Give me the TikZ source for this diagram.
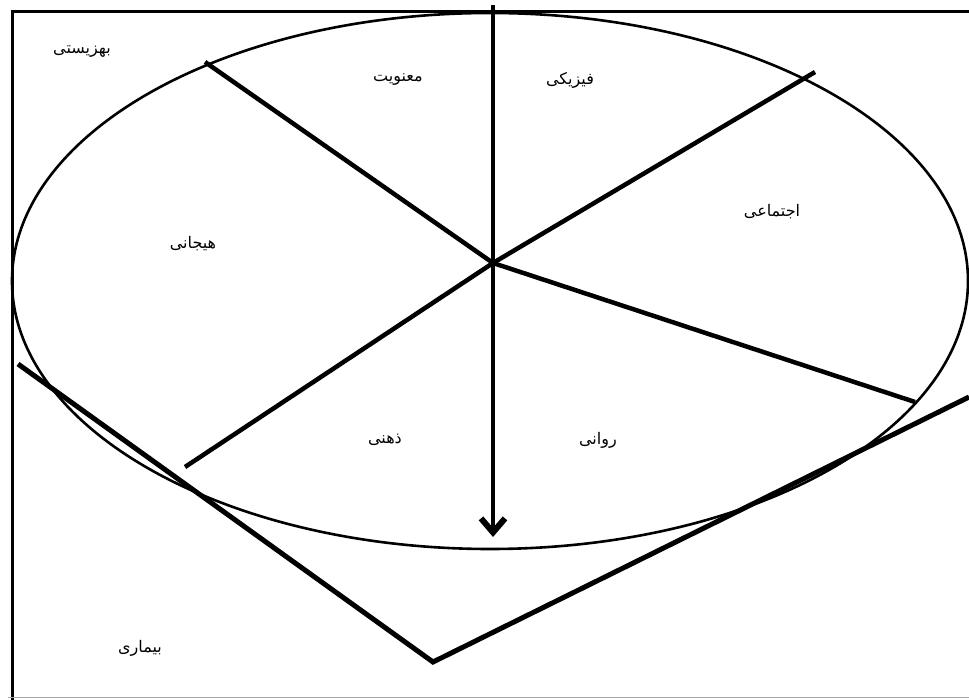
\documentclass[tikz,border=0pt]{standalone}
\usepackage{fontspec}
\usetikzlibrary{arrows.meta}
\newfontfamily\arabicfont[Script=Arabic]{DejaVu Sans}
\TeXXeTstate=1
\tikzset{
  lbl/.style={font=\arabicfont\fontsize{16}{18}\selectfont, inner sep=1pt},
  spoke/.style={line width=4.5pt},
  frame/.style={line width=3pt},
}
\begin{document}
\begin{tikzpicture}[x=1pt,y=-1pt]
\useasboundingbox (0,0) rectangle (969,700);
% frame
\coordinate (ftl) at (12,12);
\coordinate (ftr) at (969,12);
\coordinate (fbl) at (12,700);
\coordinate (bbl) at (8,697);
\coordinate (bbr) at (969,697);
\draw[frame] (ftr) -- (ftl) -- (fbl);
\draw[line width=1pt, black!35] (bbl) -- (bbr);
% ellipse
\draw[line width=2.6pt] (490,281) ellipse [x radius=478, y radius=268];
% spokes
\coordinate (c) at (493,263);
\coordinate (ul) at (205,62);
\coordinate (ur) at (815,72);
\coordinate (ll) at (185,467);
\coordinate (lr) at (915,402);
\draw[spoke] (c) -- (ul);
\draw[spoke] (c) -- (ur);
\draw[spoke] (c) -- (ll);
\draw[spoke] (c) -- (lr);
% vertical arrow
\coordinate (at) at (493,5);
\coordinate (ab) at (493,537);
\draw[line width=3.5pt, -{Straight Barb[length=14pt,width=24pt,line width=6pt]}] (at) -- (ab);
% V line
\coordinate (va) at (18,364);
\coordinate (vb) at (433,662);
\coordinate (vc) at (969,397);
\draw[line width=5pt, line join=miter] (va) -- (vb) -- (vc);
% labels
\node[lbl] (behzisti) at (82,52) {\beginR بهزیستی\endR};
\node[lbl] (manaviat) at (398,80) {\beginR معنویت\endR};
\node[lbl] (fiziki) at (570,80) {\beginR فیزیکی\endR};
\node[lbl] (ejtemai) at (772,212) {\beginR اجتماعی\endR};
\node[lbl] (hayajani) at (193,244) {\beginR هیجانی\endR};
\node[lbl] (zehni) at (385,440) {\beginR ذهنی\endR};
\node[lbl] (ravani) at (598,440) {\beginR روانی\endR};
\node[lbl] (bimari) at (140,648) {\beginR بیماری\endR};
\end{tikzpicture}
\end{document}
